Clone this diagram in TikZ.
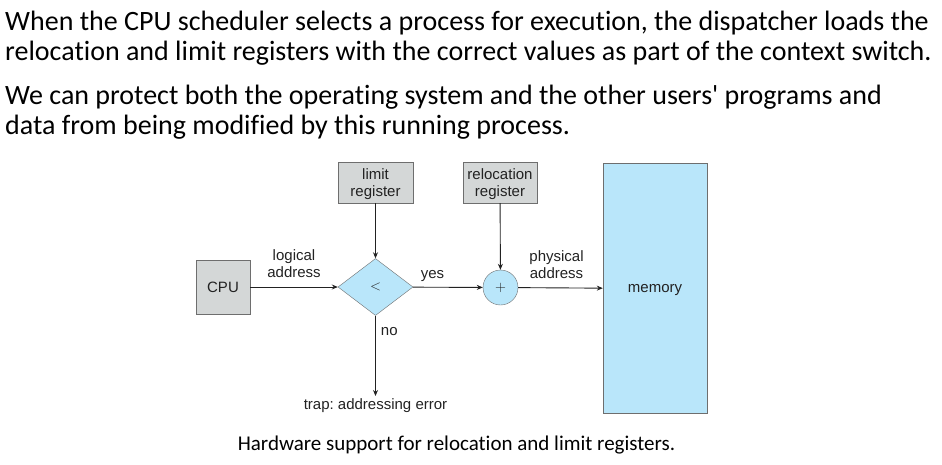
\documentclass[tikz,border=0pt]{standalone}
\usepackage{fontspec}
\newfontfamily\slidefont[Ligatures=NoCommon]{Carlito}
\newfontfamily\diagfont{Liberation Sans}
\usetikzlibrary{shapes.geometric, arrows.meta, positioning}

\definecolor{regGray}{HTML}{D4D7D7}
\definecolor{memBlue}{HTML}{B9E6FA}
\definecolor{edgeGray}{HTML}{6E6E6E}
\definecolor{inkDark}{HTML}{222222}

\frenchspacing
\begin{document}
\begin{tikzpicture}[
  x=1pt, y=-1pt,
  regblock/.style={rectangle, draw=edgeGray, fill=regGray, inner sep=0pt, text depth=0pt,
                   align=center, font=\diagfont\fontsize{15}{17.5}\selectfont, text=inkDark},
  memblock/.style={rectangle, draw=edgeGray, fill=memBlue, inner sep=0pt,
                   font=\diagfont\fontsize{15}{17}\selectfont, text=inkDark},
  cmpblock/.style={diamond, draw=edgeGray, fill=memBlue, inner sep=0pt, aspect=1.3,
                   minimum width=75pt, minimum height=57pt,
                   font=\diagfont\fontsize{15}{17}\selectfont, text=inkDark},
  addblock/.style={circle, draw=edgeGray, fill=memBlue, inner sep=0pt, minimum size=35pt,
                   font=\diagfont\fontsize{15}{17}\selectfont, text=inkDark},
  arrow/.style={-{Stealth[length=6pt, width=5pt]}, line width=0.9pt, draw=inkDark},
  elbl/.style={font=\diagfont\fontsize{15}{17}\selectfont, align=center, inner sep=2pt, text=inkDark},
  headtxt/.style={anchor=base west, inner sep=0pt, font=\slidefont\fontsize{28}{30}\selectfont, text=black}
]
\useasboundingbox (0,0) rectangle (942,464);

% slide text
\node[headtxt] (h1) at (5,30) {When the CPU scheduler selects a process for execution, the dispatcher loads the};
\node[headtxt] (h2) at (5,60) {relocation and limit registers with the correct values as part of the context switch.};
\node[headtxt] (h3) at (5,104) {We can protect both the operating system and the other users' programs and};
\node[headtxt] (h4) at (5,134) {data from being modified by this running process.};

% blocks
\node[regblock, minimum width=54pt, minimum height=54pt] (cpu) at (223,287) {CPU};
\node[regblock, minimum width=75pt, minimum height=41pt] (limit) at (375.5,182.5) {limit\\register};
\node[regblock, minimum width=74pt, minimum height=41pt] (reloc) at (500,182.5) {relocation\\register};
\node[cmpblock] (cmp) at (375.5,287) {$<$};
\node[addblock] (add) at (500.5,287.5) {$+$};
\node[memblock, minimum width=104pt, minimum height=250pt, text depth=0pt] (mem) at (655,288.5) {memory};
\node[elbl, anchor=north] (trap) at (375.5,396) {trap: addressing error};

% connectors
\draw[arrow] (cpu) -- node[elbl,above=7pt]{logical\\address} (cmp);
\draw[arrow] (limit) -- (cmp);
\draw[arrow] (cmp) -- node[elbl,above=3pt,pos=0.28]{yes} (add);
\draw[arrow] (reloc) -- (add);
\draw[arrow] (add) -- node[elbl,above=7pt,xshift=-4pt]{physical\\address} (mem);
\draw[arrow] (cmp) -- node[elbl,right,pos=0.2,xshift=3pt]{no} (trap.north);

% caption
\node[anchor=base, inner sep=0pt, font=\slidefont\fontsize{21}{24}\selectfont] (cap) at (456.5,450) {Hardware support for relocation and limit registers.};
\end{tikzpicture}
\end{document}
